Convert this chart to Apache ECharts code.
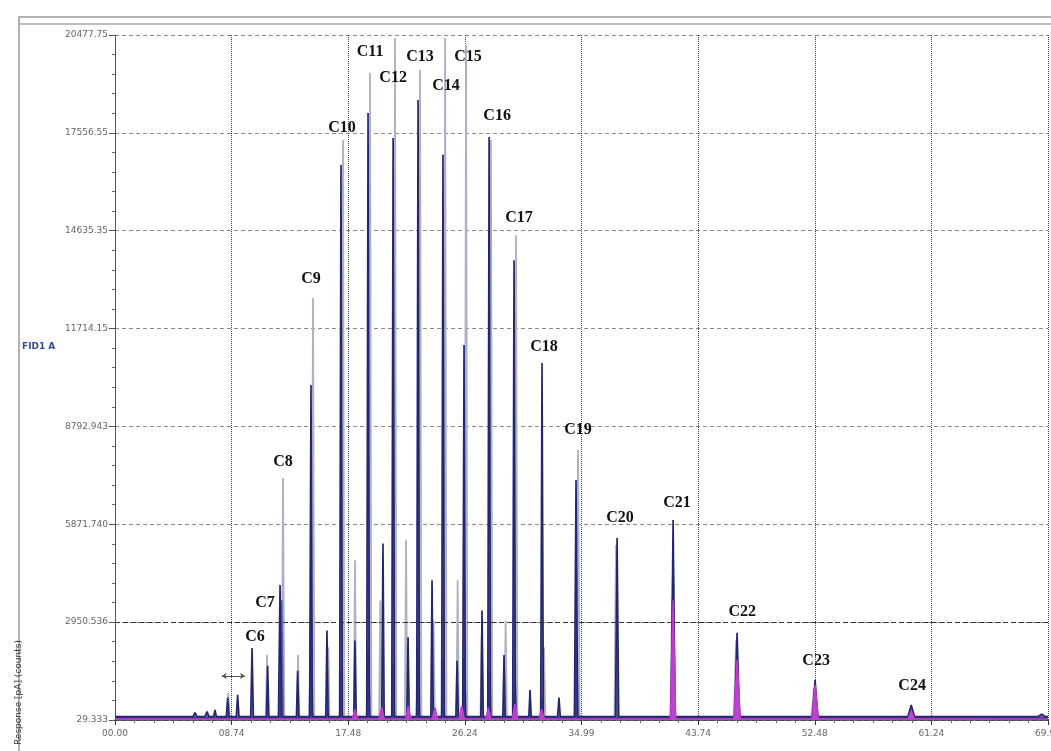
<!DOCTYPE html>
<html>
<head>
<meta charset="utf-8">
<title>色谱图</title>
<script src="https://cdn.jsdelivr.net/npm/echarts@6/dist/echarts.min.js"></script>
<style>
  html, body { margin: 0; padding: 0; background: #fff; }
  #chart { width: 1051px; height: 751px; }
</style>
</head>
<body>
<div id="chart"></div>
<script>
// 坐标轴刻度
var xTickLabels = ['00.00', '08.74', '17.48', '26.24', '34.99', '43.74', '52.48', '61.24', '69.98'];
var yTickLabels = ['29.333', '2950.536', '5871.740', '8792.943', '11714.15', '14635.35', '17556.55', '20477.75'];
var xMin = 0, xMax = 69.98, xStep = 8.7475;
var yMin = 29.333, yMax = 20477.75, yStep = 2921.203;

// 各条谱线的峰: 保留时间(min), 峰高, 半峰宽(min)
var navyTimes   = [6.0, 6.9, 7.5, 8.45, 9.2, 10.28, 11.45, 12.38, 13.7, 14.7, 15.9, 16.95, 18.0, 18.98, 20.1, 20.86, 21.98, 22.73, 23.78, 24.6, 25.66, 26.18, 27.53, 28.06, 29.18, 29.93, 31.13, 32.03, 33.3, 34.58, 37.66, 41.86, 46.66, 52.51, 59.72, 69.5];
var navyHeights = [250, 280, 330, 700, 780, 2180, 1650, 4060, 1500, 10030, 2700, 16600, 2400, 18150, 5300, 17400, 2500, 18540, 4200, 16900, 1800, 11220, 3300, 17430, 1970, 13750, 925, 10690, 700, 7190, 5460, 6000, 2630, 1220, 475, 200];
var navyWidths  = [0.15, 0.15, 0.1, 0.1, 0.1, 0.1, 0.09, 0.12, 0.09, 0.1, 0.09, 0.1, 0.09, 0.1, 0.09, 0.1, 0.09, 0.1, 0.09, 0.1, 0.09, 0.1, 0.09, 0.1, 0.09, 0.1, 0.09, 0.1, 0.1, 0.12, 0.12, 0.14, 0.18, 0.2, 0.25, 0.3];

var greyTimes   = [8.5, 11.4, 12.6, 13.73, 14.85, 16.0, 17.1, 18.0, 19.13, 19.9, 21.0, 21.83, 22.88, 23.9, 24.76, 25.7, 26.33, 27.5, 28.2, 29.3, 30.08, 32.18, 34.73, 37.58, 41.79, 46.59, 52.43];
var greyHeights = [850, 1970, 7250, 1970, 12630, 2200, 17340, 4800, 19340, 3600, 20390, 5400, 19430, 3000, 20390, 4200, 20180, 2500, 17340, 3000, 14500, 2200, 8090, 5250, 3600, 2420, 985];
var greyWidths  = [0.1, 0.09, 0.1, 0.09, 0.1, 0.09, 0.1, 0.09, 0.1, 0.09, 0.1, 0.09, 0.1, 0.09, 0.1, 0.09, 0.1, 0.09, 0.1, 0.09, 0.1, 0.1, 0.12, 0.12, 0.14, 0.18, 0.2];

var blueTimes   = [12.5, 14.7, 16.95, 19.0, 20.86, 22.73, 24.6, 26.2, 28.1, 30.0, 32.0, 34.6, 41.86, 46.66, 52.51];
var blueHeights = [3600, 3300, 1500, 2100, 1700, 2200, 1800, 1900, 1500, 1300, 700, 2500, 4800, 1500, 900];
var blueWidths  = [0.12, 0.12, 0.1, 0.12, 0.1, 0.12, 0.1, 0.12, 0.1, 0.12, 0.1, 0.12, 0.16, 0.2, 0.22];

var pinkTimes   = [18.0, 20.0, 22.0, 24.0, 26.0, 28.0, 30.0, 32.0, 41.86, 46.66, 52.51, 59.72];
var pinkHeights = [350, 400, 450, 400, 450, 400, 500, 350, 3600, 1820, 1070, 300];
var pinkWidths  = [0.2, 0.2, 0.2, 0.2, 0.2, 0.2, 0.2, 0.2, 0.2, 0.25, 0.25, 0.25];

// 正构烷烃标注
var peakNames  = ['C6', 'C7', 'C8', 'C9', 'C10', 'C11', 'C12', 'C13', 'C14', 'C15', 'C16', 'C17', 'C18', 'C19', 'C20', 'C21', 'C22', 'C23', 'C24'];
var nameTimes  = [10.5, 11.25, 12.6, 14.7, 17.03, 19.13, 20.86, 22.88, 24.83, 26.48, 28.66, 30.3, 32.18, 34.73, 37.88, 42.16, 47.04, 52.59, 59.79];
var nameValues = [2507, 3522, 7730, 13193, 17700, 19970, 19190, 19820, 18950, 19820, 18060, 15020, 11170, 8690, 6060, 6510, 3253, 1790, 1044];

// 双箭头标记 (C6 前)
var arrowSpan = [[8.0, 1343], [9.75, 1343]];

// 峰 -> 折线点
function buildTrace(times, heights, widths, base) {
  var pts = [[xMin, base]];
  for (var i = 0; i < times.length; i++) {
    pts.push([times[i] - widths[i], base]);
    pts.push([times[i], heights[i]]);
    pts.push([times[i] + widths[i], base]);
  }
  pts.push([xMax, base]);
  return pts;
}

var chart = echarts.init(document.getElementById('chart'));

var labelData = peakNames.map(function (n, i) {
  return { value: [nameTimes[i], nameValues[i]], name: n };
});

var option = {
  backgroundColor: '#ffffff',
  animation: false,
  grid: { left: 115, right: 3, top: 35, bottom: 31, outerBoundsMode: 'none' },
  xAxis: {
    type: 'value',
    min: xMin,
    max: xMax,
    interval: xStep,
    axisLine: { lineStyle: { color: '#333', width: 1.5 } },
    axisTick: { length: 5, lineStyle: { color: '#333' } },
    minorTick: { show: true, splitNumber: 6, length: 3, lineStyle: { color: '#666' } },
    axisLabel: {
      color: '#666', fontSize: 9, fontFamily: 'DejaVu Sans', margin: 9,
      formatter: function (v) {
        var i = Math.round((v - xMin) / xStep);
        return xTickLabels[i] || '';
      }
    },
    splitLine: { show: true, lineStyle: { color: '#444', type: 'dotted', width: 1 } }
  },
  yAxis: {
    type: 'value',
    min: yMin,
    max: yMax,
    interval: yStep,
    axisLine: { show: true, lineStyle: { color: '#555', width: 1 } },
    axisTick: { show: true, length: 6, lineStyle: { color: '#555' } },
    minorTick: { show: true, splitNumber: 5, length: 3, lineStyle: { color: '#666' } },
    axisLabel: {
      color: '#666', fontSize: 9, fontFamily: 'DejaVu Sans', margin: 7,
      formatter: function (v) {
        var i = Math.round((v - yMin) / yStep);
        return yTickLabels[i] || '';
      }
    },
    splitLine: { show: true, lineStyle: { color: '#8a8a8a', type: [4, 3], width: 1 } }
  },
  series: [
    {
      name: 'grey', type: 'line', symbol: 'none', z: 2,
      data: buildTrace(greyTimes, greyHeights, greyWidths, 100),
      lineStyle: { color: '#aeb0c4', width: 1.8 },
      areaStyle: { color: '#c4c6d6', opacity: 0.8 },
      markLine: {
        silent: true, symbol: 'none', label: { show: false },
        lineStyle: { color: '#333', type: [5, 3], width: 1.2 },
        data: [{ yAxis: yMin + yStep }]
      }
    },
    {
      name: 'blue', type: 'line', symbol: 'none', z: 3,
      data: buildTrace(blueTimes, blueHeights, blueWidths, 90),
      lineStyle: { color: '#5c5cae', width: 1.8 },
      areaStyle: { color: '#6a6ab8', opacity: 0.8 }
    },
    {
      name: 'navy', type: 'line', symbol: 'none', z: 4,
      data: buildTrace(navyTimes, navyHeights, navyWidths, 130),
      lineStyle: { color: '#262670', width: 1.7 },
      areaStyle: { color: '#303078', opacity: 0.7 },
      markLine: {
        silent: true,
        symbol: ['arrow', 'arrow'],
        symbolSize: 5,
        label: { show: false },
        lineStyle: { color: '#555', type: 'solid', width: 1 },
        data: [[{ coord: arrowSpan[0] }, { coord: arrowSpan[1] }]]
      }
    },
    {
      name: 'pink', type: 'line', symbol: 'none', z: 5,
      data: buildTrace(pinkTimes, pinkHeights, pinkWidths, 60),
      lineStyle: { color: '#c23ad0', width: 1.5 },
      areaStyle: { color: '#c84ad6', opacity: 0.85 }
    },
    {
      name: 'labels', type: 'scatter', symbolSize: 0, z: 10,
      data: labelData,
      itemStyle: { opacity: 1 },
      label: {
        show: true, position: 'inside',
        formatter: function (p) { return p.name; },
        color: '#111', fontSize: 16, fontWeight: 'bold',
        fontFamily: 'Liberation Serif'
      }
    }
  ],
  graphic: [
    { type: 'rect', shape: { x: 19, y: 17, width: 1040, height: 745 }, style: { fill: 'none', stroke: '#999', lineWidth: 1.5 }, silent: true },
    { type: 'line', shape: { x1: 19, y1: 24, x2: 1051, y2: 24 }, style: { stroke: '#aaa', lineWidth: 1.5 }, silent: true },
    { type: 'text', left: 22, top: 342, style: { text: 'FID1 A', fill: '#3a4a9a', fontSize: 9, fontWeight: 'bold', fontFamily: 'DejaVu Sans' } },
    { type: 'text', x: 14, y: 745, rotation: Math.PI / 2, style: { text: 'Response [pA] (counts)', fill: '#333', fontSize: 9, fontFamily: 'DejaVu Sans' } }
  ]
};

chart.setOption(option);
</script>
</body>
</html>
